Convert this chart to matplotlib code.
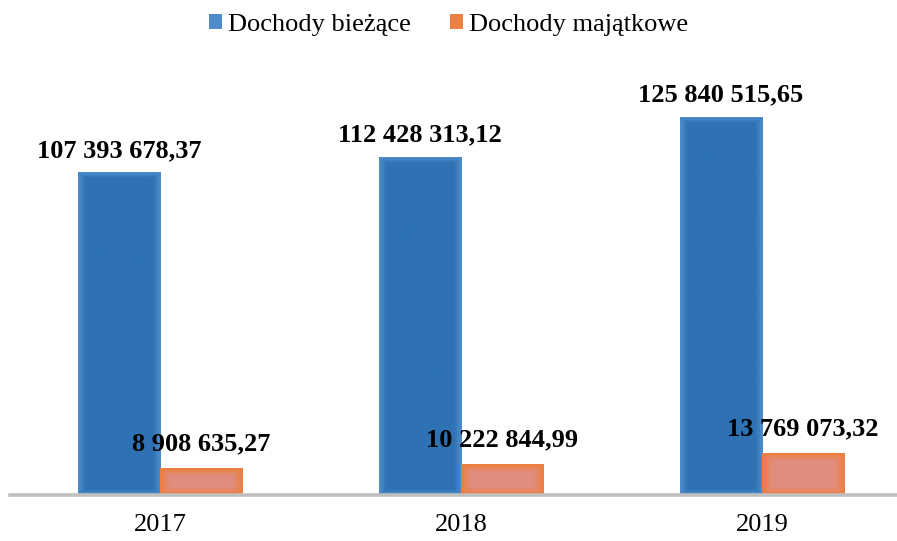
import numpy as np
import matplotlib
matplotlib.use("Agg")
import matplotlib.pyplot as plt
from matplotlib.patches import Patch
from matplotlib.colors import to_rgb

# ── Data ──────────────────────────────────────────────────────────────────────
years      = ["2017", "2018", "2019"]
biezace    = [107393678.37, 112428313.12, 125840515.65]
majatkowe  = [8908635.27, 10222844.99, 13769073.32]
series     = ["Dochody bieżące", "Dochody majątkowe"]

BLUE_C, BLUE_E     = "#2E72B3", "#4D8BCA"
ORANGE_C, ORANGE_E = "#E08E80", "#EC7F42"

plt.rcParams["font.family"] = ["Liberation Serif", "DejaVu Serif"]

SCALE = 1e6
PX_PER_UNIT_Y = 3.0     # pixels per million on the y axis
BAR_PX = 82             # bar width in pixels


def fmt(v):
    s = f"{v:,.2f}"
    return s.replace(",", " ").replace(".", ",")


def gradient_bar(ax, x0, w, h, c_center, c_edge, band=12):
    """bar filled with an edge->centre gradient (like the Excel shading)"""
    hp = max(int(h * PX_PER_UNIT_Y), 2)
    xs = np.arange(BAR_PX) + 0.5
    ys = np.arange(hp) + 0.5
    dx = np.minimum(xs, BAR_PX - xs)[None, :]
    dy = np.minimum(ys, hp - ys)[:, None]
    d = np.minimum(dx, dy * 1.3)
    t = np.clip(d / band, 0, 1)
    t = t * t * (3 - 2 * t)
    c0, c1 = np.array(to_rgb(c_edge)), np.array(to_rgb(c_center))
    img = c0[None, None, :] * (1 - t[..., None]) + c1[None, None, :] * t[..., None]
    ax.imshow(img, extent=(x0, x0 + w, 0, h), aspect="auto",
              origin="lower", zorder=2, interpolation="bilinear")


fig = plt.figure(figsize=(8.97, 5.41), dpi=100)
ax = fig.add_axes([10 / 897, 46 / 541, 887 / 897, 435 / 541])

x = np.arange(len(years))
w = 0.273

for i in range(len(years)):
    gradient_bar(ax, x[i] - w, w, biezace[i] / SCALE, BLUE_C, BLUE_E, band=9)
    gradient_bar(ax, x[i], w, majatkowe[i] / SCALE, ORANGE_C, ORANGE_E, band=12)
    ax.annotate(fmt(biezace[i]), (x[i] - w / 2, biezace[i] / SCALE),
                xytext=(0, 11.5), textcoords="offset points",
                ha="center", va="baseline", fontsize=19, fontweight="bold")
    ax.annotate(fmt(majatkowe[i]), (x[i] + w / 2, majatkowe[i] / SCALE),
                xytext=(0, 13), textcoords="offset points",
                ha="center", va="baseline", fontsize=19, fontweight="bold")

ax.set_xlim(-0.5, 2 + 135 / 301)
ax.set_ylim(0, 435 / PX_PER_UNIT_Y)
ax.set_xticks(x)
ax.set_xticklabels(years, fontsize=19)
ax.tick_params(axis="x", length=0, pad=14)
ax.set_yticks([])
for s in ["top", "right", "left"]:
    ax.spines[s].set_visible(False)
ax.spines["bottom"].set_color("#BFBFBF")
ax.spines["bottom"].set_linewidth(2.6)
ax.spines["bottom"].set_zorder(3)

handles = [Patch(facecolor=BLUE_E, label=series[0]),
           Patch(facecolor=ORANGE_E, label=series[1])]
fig.legend(handles=handles, loc="center", bbox_to_anchor=(0.5, 1 - 25 / 541),
           ncol=2, frameon=False, fontsize=19, handlelength=0.5, handleheight=0.5,
           handletextpad=0.2, columnspacing=1.5)

fig.savefig("out.png", dpi=100)
